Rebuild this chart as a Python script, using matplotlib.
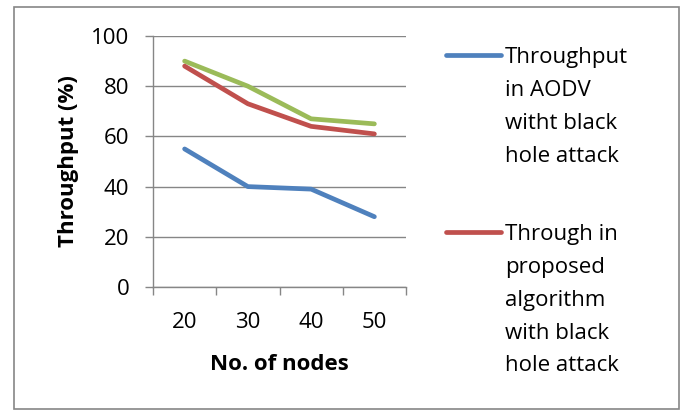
import matplotlib.pyplot as plt
from matplotlib.lines import Line2D
from matplotlib.patches import Rectangle

plt.rcParams['font.family'] = ['Open Sans', 'DejaVu Sans']

nodes = ['20', '30', '40', '50']
aodv_attack = [55, 40, 39, 28]
proposed_attack = [88, 73, 64, 61]
third_series = [90, 80, 67, 65]
legend_labels = ['Throughput\nin AODV\nwitht black\nhole attack',
                 'Through in\nproposed\nalgorithm\nwith black\nhole attack']

W, H = 685, 412
fig = plt.figure(figsize=(W / 100, H / 100), dpi=100)
# axes box in pixels: x 153..406, y 36..287
ax = fig.add_axes([153 / W, 1 - 287 / H, (406 - 153) / W, (287 - 36) / H])

grey = '#868686'
blue, red, green = '#4F81BD', '#C0504D', '#9BBB59'

x = list(range(len(nodes)))
ax.plot(x, aodv_attack, color=blue, lw=3.4, solid_capstyle='round')
ax.plot(x, third_series, color=green, lw=3.4, solid_capstyle='round')
ax.plot(x, proposed_attack, color=red, lw=3.4, solid_capstyle='round')

ax.set_xlim(-0.5, len(nodes) - 0.5)
ax.set_ylim(0, 100)
ax.set_yticks(range(0, 101, 20))
ax.set_xticks(x)
ax.set_xticklabels(nodes)
ax.set_xticks([i - 0.5 for i in range(len(nodes) + 1)], minor=True)
ax.tick_params(axis='x', which='major', length=0, pad=18, labelsize=16)
ax.tick_params(axis='x', which='minor', length=6, width=1, color=grey, direction='out')
ax.tick_params(axis='y', length=6, width=1, color=grey, direction='out', pad=11, labelsize=16)

ax.grid(axis='y', color=grey, lw=1)
ax.set_axisbelow(True)
for s in ['top', 'right']:
    ax.spines[s].set_visible(False)
for s in ['left', 'bottom']:
    ax.spines[s].set_color(grey)
    ax.spines[s].set_linewidth(1)

ax.set_xlabel('No. of nodes', fontsize=16, fontweight='bold', labelpad=15)
ax.set_ylabel('Throughput (%)', fontsize=16, fontweight='bold', labelpad=9)

# legend drawn by hand, handle aligned with first text line (like Excel)
for color, label, ypix in [(blue, legend_labels[0], 55), (red, legend_labels[1], 232)]:
    fig.add_artist(Line2D([446 / W, 501 / W], [1 - ypix / H] * 2, color=color,
                          lw=3.4, solid_capstyle='round'))
    fig.text(505 / W, 1 - (ypix - 8) / H, label, fontsize=16, va='top',
             ha='left', linespacing=1.74)

# outer chart border
fig.add_artist(Rectangle((14 / W, 1 - 409 / H), (679 - 14) / W, (409 - 7) / H,
                         transform=fig.transFigure, fill=False, ec=grey, lw=1.2))

fig.savefig('out.png', dpi=100)
